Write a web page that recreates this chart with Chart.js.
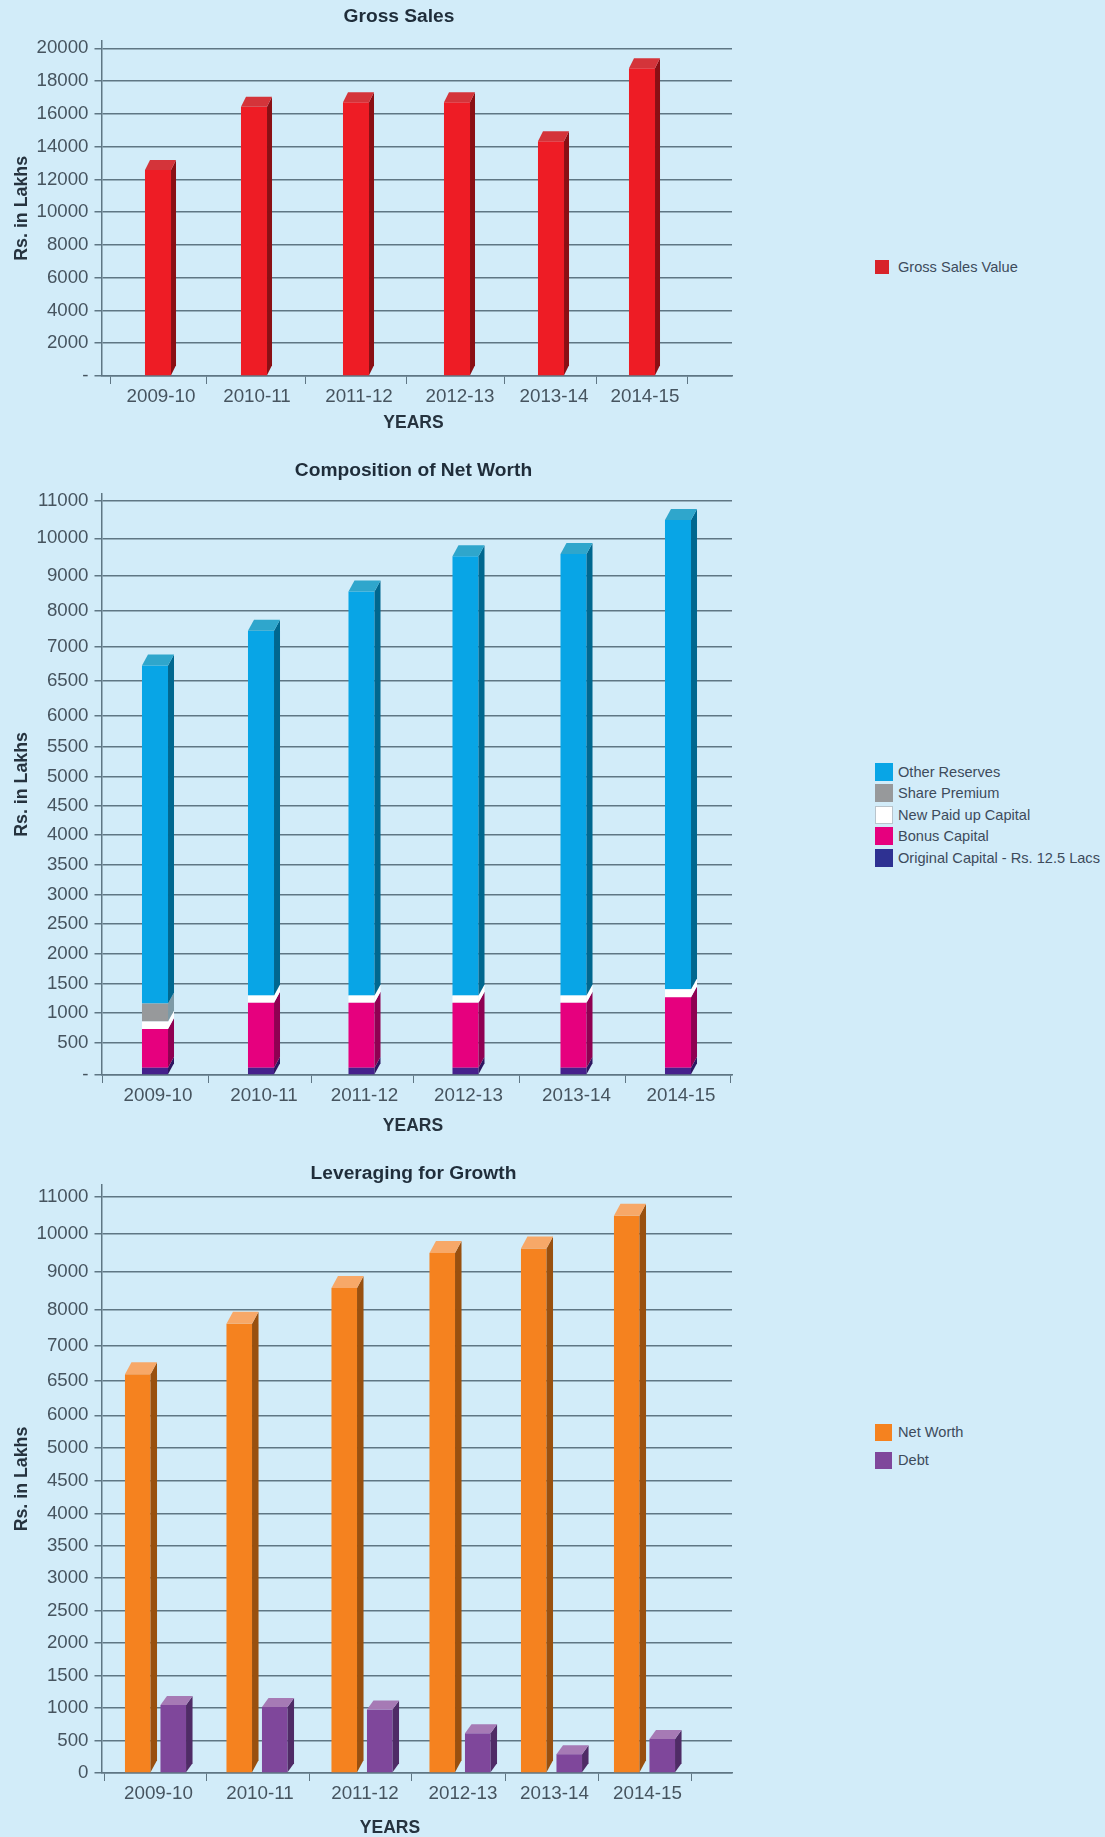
<!DOCTYPE html>
<html>
<head>
<meta charset="utf-8">
<title>Charts</title>
<script src="https://cdn.jsdelivr.net/npm/chart.js@4"></script>
<style>
  html, body { margin: 0; padding: 0; background: #d2ecf9; }
  body { position: relative; width: 1105px; height: 1837px; overflow: hidden; font-family: "Liberation Sans", Arial, sans-serif; }
  canvas { position: absolute; left: 0; display: block; }
  .legend-row { position: absolute; left: 875px; display: flex; align-items: center; font-size: 14.6px; color: #3d4b5c; white-space: nowrap; }
  .legend-row i { display: block; box-sizing: border-box; }
</style>
</head>
<body>
<canvas id="salesChart" width="798" height="450" style="top:0"></canvas>
<canvas id="netWorthChart" width="827" height="700" style="top:450px"></canvas>
<canvas id="leverageChart" width="827" height="687" style="top:1150px"></canvas>

<script>
const years = ["2009-10", "2010-11", "2011-12", "2012-13", "2013-14", "2014-15"];

const grossSales = [12570, 16440, 16700, 16700, 14320, 18790];

const originalCapital = [110, 110, 110, 110, 110, 110];
const bonusCapital = [617, 1064, 1064, 1064, 1064, 1155];
const newPaidUp = [128, 121, 121, 121, 121, 136];
const sharePremium = [304, 0, 0, 0, 0, 0];
const otherReserves = [5565, 6148, 7262, 8229, 8288, 9081];

const netWorth = [6595, 7607, 8576, 9506, 9621, 10494];
const debt = [1047, 1020, 980, 620, 295, 533];

const salesTicks = [0, 2000, 4000, 6000, 8000, 10000, 12000, 14000, 16000, 18000, 20000];
const netWorthTicks = [0, 500, 1000, 1500, 2000, 2500, 3000, 3500, 4000, 4500, 5000, 5500, 6000, 6500, 7000, 8000, 9000, 10000, 11000];
const leverageTicks = [0, 500, 1000, 1500, 2000, 2500, 3000, 3500, 4000, 4500, 5000, 6000, 6500, 7000, 8000, 9000, 10000, 11000];

const FONT = "'Liberation Sans', Arial, sans-serif";
const GRID = "#5f7684";

// the printed axes are not evenly spaced, so ticks are placed by relative gaps
class SteppedScale extends Chart.LinearScale {
  static id = "stepped";
  static defaults = {};

  determineDataLimits() {
    const cfg = this.chart.config.options.scales.y;
    this.min = cfg.stops[0];
    this.max = cfg.stops[cfg.stops.length - 1];
  }

  buildTicks() {
    return this.chart.config.options.scales.y.stops.map(v => ({ value: v }));
  }

  getPixelForValue(value) {
    const cfg = this.chart.config.options.scales.y;
    const stops = cfg.stops;
    const gaps = cfg.gaps || stops.slice(1).map(() => 1);
    const total = gaps.reduce((a, b) => a + b, 0);
    let run = 0;
    for (let i = 0; i < gaps.length; i++) {
      if (value <= stops[i + 1] || i === gaps.length - 1) {
        run += gaps[i] * (value - stops[i]) / (stops[i + 1] - stops[i]);
        break;
      }
      run += gaps[i];
    }
    return this.bottom - run / total * (this.bottom - this.top - cfg.headroom);
  }
}

// same idea for the categories: the years are not equally far apart in the print
class SteppedCategory extends Chart.CategoryScale {
  static id = "steppedCategory";
  static defaults = {};

  getPixelForValue(value) {
    const cfg = this.chart.config.options.scales.x;
    const n = typeof value === "number" ? value : this.parse(value);
    let px = this.left + cfg.lead;
    for (let i = 0; i < n; i++) px += cfg.steps[i];
    return px;
  }
}
Chart.register(SteppedScale, SteppedCategory);

// side and top faces of the fake 3d bars
function depthFaces(dx, dy) {
  return {
    id: "depthFaces",
    afterDatasetsDraw(chart) {
      const ctx = chart.ctx;
      chart.data.datasets.forEach((ds, i) => {
        const rise = ds.rise || dy;
        chart.getDatasetMeta(i).data.forEach((bar, j) => {
          if (!ds.data[j]) return;
          const left = bar.x - bar.width / 2;
          const right = bar.x + bar.width / 2;
          ctx.fillStyle = ds.sideColor;
          ctx.beginPath();
          ctx.moveTo(right, bar.base);
          ctx.lineTo(right + dx, bar.base - rise);
          ctx.lineTo(right + dx, bar.y - rise);
          ctx.lineTo(right, bar.y);
          ctx.closePath();
          ctx.fill();
          if (ds.capColor) {
            ctx.fillStyle = ds.capColor;
            ctx.beginPath();
            ctx.moveTo(left, bar.y);
            ctx.lineTo(left + dx, bar.y - rise);
            ctx.lineTo(right + dx, bar.y - rise);
            ctx.lineTo(right, bar.y);
            ctx.closePath();
            ctx.fill();
          }
        });
      });
    }
  };
}

// chart title and x axis title sit off-centre in the print
function placedTitles(title, titleAt, yearsAt) {
  return {
    id: "placedTitles",
    afterDraw(chart) {
      const ctx = chart.ctx;
      ctx.save();
      ctx.textAlign = "center";
      ctx.textBaseline = "middle";
      ctx.font = "bold 19.2px " + FONT;
      ctx.fillStyle = "#1f2d3a";
      ctx.fillText(title, titleAt[0], titleAt[1]);
      ctx.font = "bold 17.5px " + FONT;
      ctx.fillStyle = "#26333f";
      ctx.fillText("YEARS", yearsAt[0], yearsAt[1]);
      ctx.restore();
    }
  };
}

function bars(label, data, color, sideColor, capColor, swatch) {
  return { label, data, backgroundColor: color, borderWidth: 0, sideColor, capColor, swatch: swatch || color };
}

function makeChart(id, cfg) {
  return new Chart(document.getElementById(id), {
    type: "bar",
    data: { labels: years, datasets: cfg.datasets },
    plugins: [depthFaces(cfg.depth[0], cfg.depth[1]), placedTitles(cfg.title, cfg.titleAt, cfg.yearsAt)],
    options: {
      responsive: false,
      animation: false,
      layout: { padding: { left: 0, top: cfg.topPad, bottom: 0, right: cfg.rightPad } },
      barPercentage: cfg.barPct,
      categoryPercentage: cfg.catPct,
      plugins: {
        legend: { display: false },
        tooltip: { enabled: false }
      },
      scales: {
        x: {
          type: "steppedCategory",
          stacked: cfg.stacked,
          lead: cfg.lead,
          steps: cfg.steps,
          afterFit: s => { s.height = cfg.xHeight; },
          border: { color: GRID, width: 1.5 },
          grid: { drawOnChartArea: false, color: GRID, tickLength: 8, lineWidth: 1 },
          ticks: {
            color: "#46545f",
            padding: 2,
            labelOffset: 3,
            maxRotation: 0,
            autoSkip: false,
            font: { family: FONT, size: 18.8 }
          }
        },
        y: {
          type: "stepped",
          stacked: cfg.stacked,
          stops: cfg.ticks,
          gaps: cfg.gaps,
          headroom: cfg.headroom,
          afterFit: s => { s.width = 102; },
          border: { color: GRID, width: 1.5 },
          grid: { color: GRID, lineWidth: 1.5, tickLength: 7.5 },
          ticks: {
            color: "#46545f",
            padding: 6,
            autoSkip: false,
            font: { family: FONT, size: 18.7 },
            callback: v => (v === 0 ? cfg.zeroLabel : String(v))
          },
          title: {
            display: true,
            text: "Rs. in Lakhs",
            color: "#26333f",
            padding: { top: 11, bottom: 0 },
            font: { family: FONT, size: 17.8, weight: "bold", lineHeight: 1.2 }
          }
        }
      }
    }
  });
}

function htmlLegend(chart, top, rowHeight, box, reverse) {
  const list = chart.data.datasets.slice();
  if (reverse) list.reverse();
  list.forEach((ds, i) => {
    const row = document.createElement("div");
    row.className = "legend-row";
    row.style.top = (top + i * rowHeight - box / 2) + "px";
    row.style.height = box + "px";
    const mark = document.createElement("i");
    mark.style.width = box + "px";
    mark.style.height = box + "px";
    mark.style.marginRight = (23 - box) + "px";
    mark.style.background = ds.swatch;
    if (ds.swatch === "#ffffff") mark.style.border = "1px solid #b9c4cc";
    row.appendChild(mark);
    row.appendChild(document.createTextNode(ds.label));
    document.body.appendChild(row);
  });
}

const salesChart = makeChart("salesChart", {
  title: "Gross Sales",
  titleAt: [399, 17],
  yearsAt: [413.5, 423],
  topPad: 40.7,
  rightPad: 66,
  xHeight: 74,
  lead: 56,
  steps: [96, 102, 101, 94, 91],
  barPct: 0.286,
  catPct: 1,
  stacked: false,
  depth: [5, 10],
  ticks: salesTicks,
  headroom: 7.6,
  zeroLabel: "-",
  datasets: [bars("Gross Sales Value", grossSales, "#ee1c25", "#8a0f14", "#d4343a", "#d8232a")]
});

const netWorthChart = makeChart("netWorthChart", {
  title: "Composition of Net Worth",
  titleAt: [413.5, 21],
  yearsAt: [413, 676],
  topPad: 43.8,
  rightPad: 95,
  xHeight: 75,
  lead: 53,
  steps: [106, 100.5, 104, 108, 104.5],
  barPct: 0.259,
  catPct: 1,
  stacked: true,
  depth: [6, 11],
  ticks: netWorthTicks,
  gaps: [73, 66, 66, 67, 66, 66, 66, 67, 66, 65, 67, 70, 77, 78, 79, 79, 84, 85],
  headroom: 6.6,
  zeroLabel: "-",
  datasets: [
    bars("Original Capital - Rs. 12.5 Lacs", originalCapital, "#46208c", "#2d1560", null, "#2e3192"),
    bars("Bonus Capital", bonusCapital, "#e6007e", "#8f0052", null),
    bars("New Paid up Capital", newPaidUp, "#ffffff", "#ffffff", null),
    bars("Share Premium", sharePremium, "#97999b", "#7d9aa6", null),
    bars("Other Reserves", otherReserves, "#08a5e6", "#00678f", "#2fa6cc")
  ]
});

const leverageChart = makeChart("leverageChart", {
  title: "Leveraging for Growth",
  titleAt: [413.5, 24],
  yearsAt: [390, 678],
  topPad: 35,
  rightPad: 95,
  xHeight: 64,
  lead: 53.5,
  steps: [101.5, 105, 98, 91.5, 93],
  barPct: 0.72,
  catPct: 0.776,
  stacked: false,
  depth: [6.5, 12],
  ticks: leverageTicks,
  gaps: [73, 75, 75, 74, 74, 74, 74, 74, 75, 74, 75, 79, 79, 84, 85, 87, 85],
  headroom: 11.9,
  zeroLabel: "0",
  datasets: [
    bars("Net Worth", netWorth, "#f5821f", "#99500f", "#f7a868"),
    { ...bars("Debt", debt, "#7f479b", "#4f2b66", "#a67ab5"), rise: 9 }
  ]
});

htmlLegend(salesChart, 267, 21, 14, false);
htmlLegend(netWorthChart, 772, 21.4, 18, true);
htmlLegend(leverageChart, 1432, 28, 17, false);
</script>
</body>
</html>
